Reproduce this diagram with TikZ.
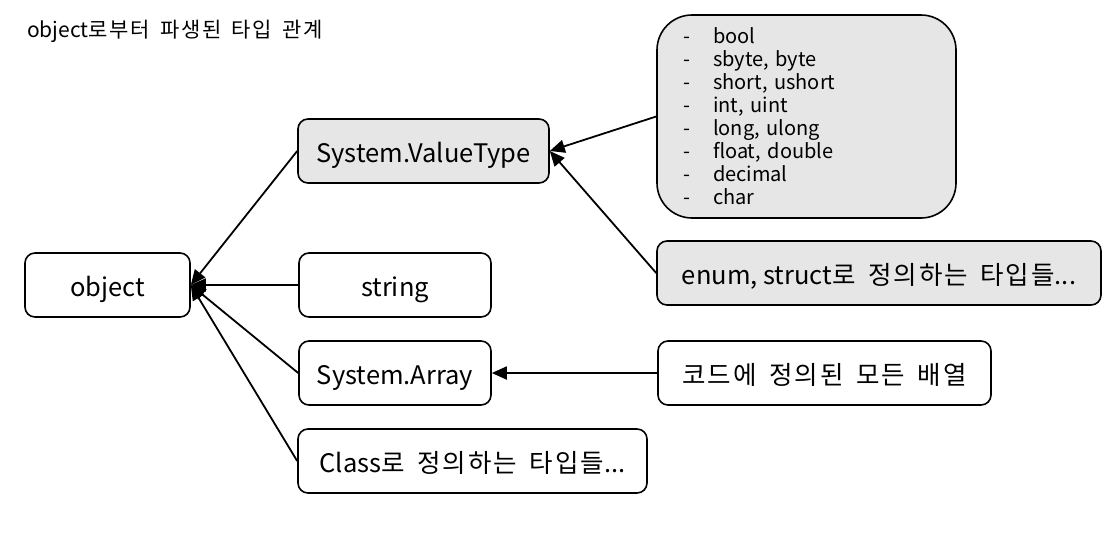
\documentclass[tikz,border=0pt]{standalone}
\usepackage{fontspec}
\setmainfont{Noto Sans CJK KR}
\newfontfamily\kr{Noto Sans CJK KR}[LetterSpace=8, WordSpace=1.6]
\usetikzlibrary{positioning, arrows.meta}
\definecolor{boxgray}{HTML}{E6E6E6}

\begin{document}
\begin{tikzpicture}[
    x=1pt, y=-1pt,
    box/.style={rectangle, draw=black, line width=1.6pt, rounded corners=10pt, minimum height=64pt, inner sep=0pt, text height=24.5pt, text depth=2.5pt, text centered, font=\fontsize{25.5}{30}\selectfont},
    gbox/.style={box, fill=boxgray},
    arrow/.style={-{Triangle[length=15pt, width=13pt]}, line width=1.8pt}
]
\useasboundingbox (0,0) rectangle (1113,544);
\node (title) [anchor=base west, font=\fontsize{21}{24}\selectfont, inner sep=0pt] at (27,37) {object{\kr 로부터 파생된 타입 관계}};
% left column
\node (object) [box, minimum width=165pt] at (107.5,285) {object};
\node (valuetype) [gbox, minimum width=251pt] at (423.5,151) {System.ValueType};
\node (string) [box, minimum width=192pt] at (395,285) {string};
\node (array) [box, minimum width=192pt] at (395,373) {System.Array};
\node (class) [box, minimum width=349pt] at (472.5,461) {Class{\kr 로 정의하는 타입들}...};
% right column
\node (prims) [gbox, rounded corners=35pt, minimum width=299pt, minimum height=203pt, text height=, text depth=, text width=247pt, inner xsep=26pt, align=left, font=\fontsize{20}{23}\selectfont] at (806.5,116.5) {%
    \makebox[30pt][l]{-}bool\\
    \makebox[30pt][l]{-}sbyte, byte\\
    \makebox[30pt][l]{-}short, ushort\\
    \makebox[30pt][l]{-}int, uint\\
    \makebox[30pt][l]{-}long, ulong\\
    \makebox[30pt][l]{-}float, double\\
    \makebox[30pt][l]{-}decimal\\
    \makebox[30pt][l]{-}char};
\node (userval) [gbox, minimum width=444pt] at (879,273) {enum, struct{\kr 로 정의하는 타입들}...};
\node (arrays) [box, minimum width=333pt] at (824.5,373) {{\kr 코드에 정의된 모든 배열}};
\draw [arrow] (valuetype.west) -- (object.east);
\draw [arrow] (string.west) -- (object.east);
\draw [arrow] (array.west) -- (object.east);
\draw [arrow] (class.west) -- (object.east);
\draw [arrow] (prims.west) -- (valuetype.east);
\draw [arrow] (userval.west) -- (valuetype.east);
\draw [arrow] (arrays.west) -- (array.east);
\end{tikzpicture}
\end{document}
